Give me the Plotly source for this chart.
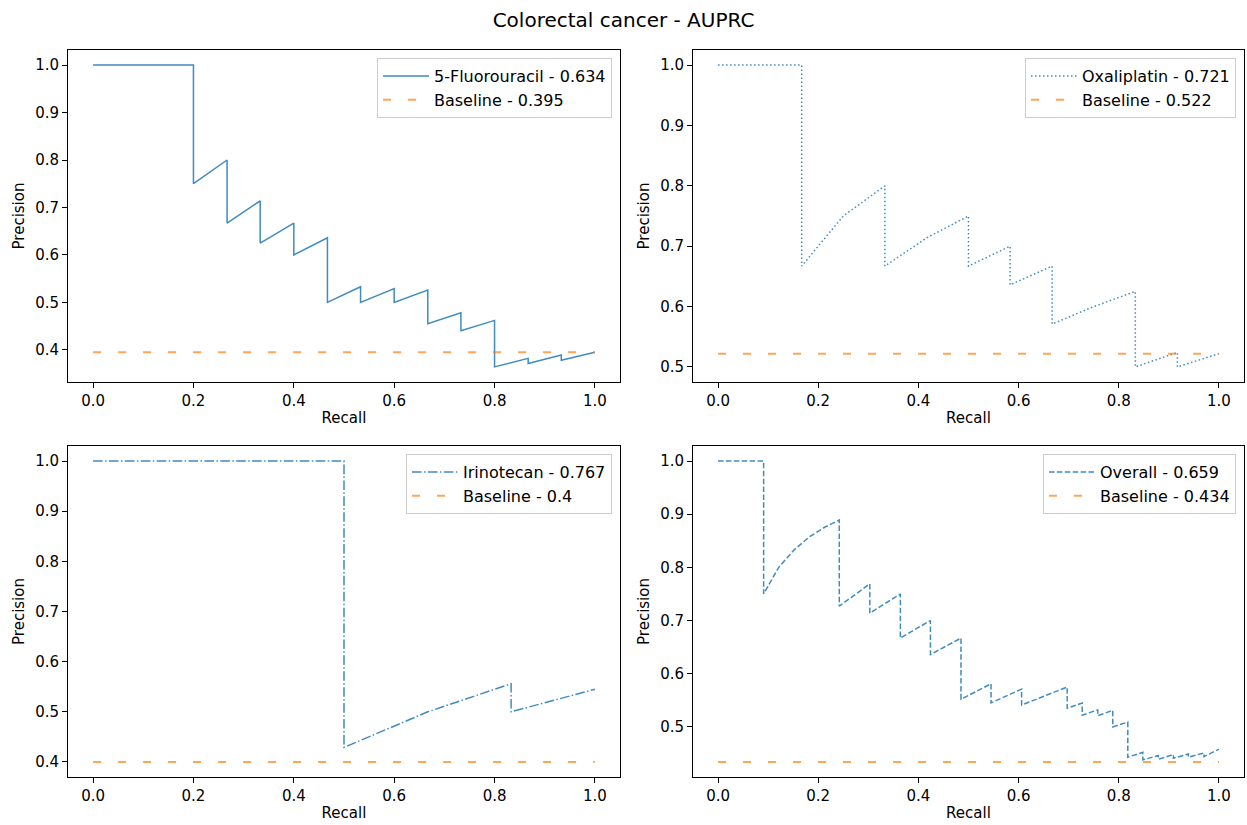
import plotly.graph_objects as go

# ---------------- data ----------------
fu_recall = [0.0, 0.2, 0.2, 0.267, 0.267, 0.333, 0.333, 0.4, 0.4, 0.467, 0.467, 0.533, 0.533,
             0.6, 0.6, 0.667, 0.667, 0.733, 0.733, 0.8, 0.8, 0.867, 0.867, 0.933, 0.933, 1.0]
fu_precision = [1.0, 1.0, 0.75, 0.8, 0.667, 0.714, 0.625, 0.667, 0.6, 0.636, 0.5, 0.533, 0.5,
                0.529, 0.5, 0.526, 0.455, 0.478, 0.44, 0.462, 0.364, 0.382, 0.371, 0.389, 0.378, 0.395]
fu_baseline = 0.395
fu_auprc = "0.634"

ox_recall = [0.0, 0.167, 0.167, 0.25, 0.333, 0.333, 0.417, 0.5, 0.5, 0.583, 0.583, 0.667, 0.667,
             0.75, 0.833, 0.833, 0.917, 0.917, 1.0]
ox_precision = [1.0, 1.0, 0.667, 0.75, 0.8, 0.667, 0.714, 0.75, 0.667, 0.7, 0.636, 0.667, 0.571,
                0.6, 0.625, 0.5, 0.524, 0.5, 0.522]
ox_baseline = 0.522
ox_auprc = "0.721"

ir_recall = [0.0, 0.5, 0.5, 0.667, 0.833, 0.833, 1.0]
ir_precision = [1.0, 1.0, 0.429, 0.5, 0.556, 0.5, 0.545]
ir_baseline = 0.4
ir_auprc = "0.767"

ov_recall = [0.0, 0.091, 0.091, 0.121, 0.152, 0.182, 0.212, 0.242, 0.242, 0.303, 0.303, 0.364, 0.364,
             0.424, 0.424, 0.485, 0.485, 0.545, 0.545, 0.606, 0.606, 0.697, 0.697, 0.727, 0.727,
             0.758, 0.758, 0.788, 0.788, 0.818, 0.818, 0.848, 0.848, 0.879, 0.879, 0.909, 0.909,
             0.939, 0.939, 0.970, 0.970, 1.0]
ov_precision = [1.0, 1.0, 0.75, 0.8, 0.833, 0.857, 0.875, 0.889, 0.727, 0.769, 0.714, 0.75, 0.667,
                0.7, 0.636, 0.667, 0.552, 0.581, 0.545, 0.571, 0.541, 0.575, 0.535, 0.545, 0.522,
                0.532, 0.521, 0.531, 0.5, 0.509, 0.443, 0.452, 0.438, 0.446, 0.439, 0.448, 0.441,
                0.449, 0.443, 0.451, 0.444, 0.458]
ov_baseline = 0.434
ov_auprc = "0.659"

baseline_recall = [0.0, 1.0]
baseline_labels = ["0.395", "0.522", "0.4", "0.434"]

panels = [
    ("5-Fluorouracil", fu_recall, fu_precision, fu_baseline, fu_auprc, "solid"),
    ("Oxaliplatin", ox_recall, ox_precision, ox_baseline, ox_auprc, "1.5px,2.5px"),
    ("Irinotecan", ir_recall, ir_precision, ir_baseline, ir_auprc, "9.6px,2.4px,1.5px,2.4px"),
    ("Overall", ov_recall, ov_precision, ov_baseline, ov_auprc, "5.5px,2.4px"),
]

# ---------------- layout geometry ----------------
W, H = 1247, 825
ml, mr, mt, mb = 68, 3, 50, 48
pw = W - ml - mr
ph = H - mt - mb
xdoms = [[0, (620 - ml) / pw], [(693 - ml) / pw, 1]]
ydoms = [[(H - mb - 382) / ph, 1], [0, (H - mb - 446) / ph]]

BLUE = "rgba(31,119,180,0.85)"
ORANGE = "rgba(255,127,14,0.7)"
FONT = "DejaVu Sans"
TICK_SIZE = 15
LABEL_SIZE = 15
LEGEND_SIZE = 16
TITLE_SIZE = 20

fig = go.Figure()
layout = dict(
    width=W, height=H,
    margin=dict(l=ml, r=mr, t=mt, b=mb),
    paper_bgcolor="white", plot_bgcolor="white",
    font=dict(family=FONT, size=TICK_SIZE, color="black"),
    title=dict(text="Colorectal cancer - AUPRC", x=0.5, xref="container", xanchor="center",
               y=1 - 20 / H, yref="container", yanchor="middle",
               font=dict(family=FONT, size=TITLE_SIZE, color="black")),
    showlegend=True,
)

for i, (name, rec, prec, base, auprc, dash) in enumerate(panels):
    r, c = divmod(i, 2)
    n = "" if i == 0 else str(i + 1)
    xa, ya = "x" + n, "y" + n
    leg = "legend" + n
    fig.add_trace(go.Scatter(x=rec, y=prec, mode="lines", name=f"{name} - {auprc}",
                             line=dict(color=BLUE, width=1.5, dash=dash),
                             xaxis=xa, yaxis=ya, legend=leg))
    fig.add_trace(go.Scatter(x=baseline_recall, y=[base, base], mode="lines",
                             name=f"Baseline - {baseline_labels[i]}",
                             line=dict(color=ORANGE, width=2, dash="8px,17px"),
                             xaxis=xa, yaxis=ya, legend=leg))
    ymin = min(min(prec), base)
    ymax = max(max(prec), base)
    pad = (ymax - ymin) * 0.05
    axis_common = dict(showgrid=False, zeroline=False, showline=True, linecolor="black",
                       linewidth=1, mirror=True, ticks="outside", ticklen=5, tickwidth=1,
                       tickcolor="black", tickfont=dict(family=FONT, size=TICK_SIZE, color="black"))
    layout["xaxis" + n] = dict(domain=xdoms[c], anchor=ya, range=[-0.05, 1.05],
                               tickmode="array", tickvals=[0, 0.2, 0.4, 0.6, 0.8, 1.0],
                               ticktext=["0.0", "0.2", "0.4", "0.6", "0.8", "1.0"],
                               title=dict(text="Recall", standoff=3,
                                          font=dict(family=FONT, size=LABEL_SIZE, color="black")),
                               **axis_common)
    layout["yaxis" + n] = dict(domain=ydoms[r], anchor=xa, range=[ymin - pad, ymax + pad],
                               dtick=0.1, tick0=0, tickformat=".1f",
                               title=dict(text="Precision", standoff=6,
                                          font=dict(family=FONT, size=LABEL_SIZE, color="black")),
                               **axis_common)
    right_px = (620 if c == 0 else 1244) - 8
    top_px = (50 if r == 0 else 446) + 8
    layout[leg] = dict(x=(right_px - ml) / pw, y=(H - mb - top_px) / ph,
                       xanchor="right", yanchor="top", xref="paper", yref="paper",
                       bgcolor="rgba(255,255,255,0.8)", bordercolor="#cccccc", borderwidth=1,
                       itemwidth=46,
                       font=dict(family=FONT, size=LEGEND_SIZE, color="black"), tracegroupgap=0)

fig.update_layout(**layout)
fig.write_html("out.html")
